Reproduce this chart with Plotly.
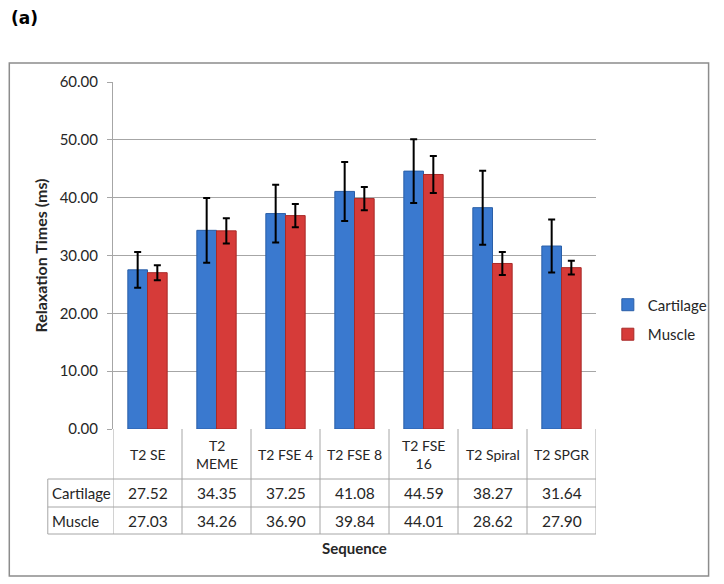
import plotly.graph_objects as go

categories = ["T2 SE", "T2 MEME", "T2 FSE 4", "T2 FSE 8", "T2 FSE 16", "T2 Spiral", "T2 SPGR"]
cat_labels = ["T2 SE", "T2<br>MEME", "T2 FSE 4", "T2 FSE 8", "T2 FSE<br>16", "T2 Spiral", "T2 SPGR"]
cartilage = [27.52, 34.35, 37.25, 41.08, 44.59, 38.27, 31.64]
muscle = [27.03, 34.26, 36.90, 39.84, 44.01, 28.62, 27.90]
cartilage_err = [3.1, 5.6, 5.0, 5.1, 5.5, 6.4, 4.6]
muscle_err = [1.3, 2.2, 2.0, 2.0, 3.2, 2.0, 1.2]
y_ticks = [0, 10, 20, 30, 40, 50, 60]

FONT = "Lato"
TXT = "#262626"
GRID = "#a6a6a6"

fig = go.Figure()
fig.add_trace(go.Bar(
    name="Cartilage", x=categories, y=cartilage,
    marker=dict(color="#3a79cf", line=dict(color="#2a5fa8", width=1)),
    error_y=dict(type="data", array=cartilage_err, color="black", thickness=2, width=3.5),
    legendgroup="c",
))
fig.add_trace(go.Bar(
    name="Muscle", x=categories, y=muscle,
    marker=dict(color="#d63b39", line=dict(color="#a82a28", width=1)),
    error_y=dict(type="data", array=muscle_err, color="black", thickness=2, width=3.5),
    legendgroup="m",
))

shapes = []
annotations = []

# table geometry in paper coordinates
y_cat_bot = -0.1441
y_cart_bot = -0.2248
y_mus_bot = -0.3026
x_row_left = -0.135
line = dict(color=GRID, width=1)

for i in range(len(categories) + 1):
    shapes.append(dict(type="line", xref="x", yref="paper", x0=i - 0.5, x1=i - 0.5,
                       y0=0, y1=y_mus_bot, line=line))
shapes.append(dict(type="line", xref="paper", yref="paper", x0=x_row_left, x1=x_row_left,
                   y0=y_cat_bot, y1=y_mus_bot, line=line))
for yy in [y_cat_bot, y_cart_bot, y_mus_bot]:
    shapes.append(dict(type="line", xref="paper", yref="paper", x0=x_row_left, x1=1,
                       y0=yy, y1=yy, line=line))
# outer chart border
shapes.append(dict(type="rect", xref="paper", yref="paper", x0=-0.2147, x1=1.2331,
                   y0=-0.4236, y1=1.0548, line=dict(color="#8c8c8c", width=1.5)))

def ann(x, y, text, size, xref="x", xanchor="center", bold=False, family=FONT, color=TXT):
    return dict(x=x, y=y, xref=xref, yref="paper", text=f"<b>{text}</b>" if bold else text,
                showarrow=False, xanchor=xanchor, yanchor="middle",
                font=dict(size=size, color=color, family=family))

for cat, lab, c, m in zip(categories, cat_labels, cartilage, muscle):
    annotations.append(ann(cat, y_cat_bot / 2, lab, 14))
    annotations.append(ann(cat, (y_cat_bot + y_cart_bot) / 2, f"{c:.2f}", 15.5))
    annotations.append(ann(cat, (y_cart_bot + y_mus_bot) / 2, f"{m:.2f}", 15.5))
annotations.append(ann(x_row_left + 0.004, (y_cat_bot + y_cart_bot) / 2, "Cartilage", 15,
                       xref="paper", xanchor="left"))
annotations.append(ann(x_row_left + 0.004, (y_cart_bot + y_mus_bot) / 2, "Muscle", 15,
                       xref="paper", xanchor="left"))
annotations.append(ann(0.5, -0.343, "Sequence", 15, xref="paper", bold=True))
annotations.append(ann((8 - 113) / 489, (429 - 18) / 347, "(a)", 17, xref="paper",
                       xanchor="left", bold=True, family="DejaVu Sans", color="black"))

# page body has an 8px margin: figure is shifted accordingly
fig.update_layout(
    width=716, height=576,
    margin=dict(l=105, r=122, t=74, b=155),
    paper_bgcolor="white", plot_bgcolor="white",
    barmode="group", bargap=0.43, bargroupgap=0,
    font=dict(family=FONT, color=TXT, size=13),
    showlegend=True,
    legend=dict(x=1.0245, y=0.405, xanchor="left", yanchor="top",
                font=dict(size=15, color=TXT, family=FONT),
                traceorder="grouped", tracegroupgap=7, bgcolor="rgba(0,0,0,0)"),
    xaxis=dict(range=[-0.5, 6.5], showticklabels=False, showgrid=False, zeroline=False,
               showline=False, fixedrange=True, automargin=False),
    yaxis=dict(range=[0, 60], tickvals=y_ticks, tickformat=".2f", showgrid=True,
               gridcolor=GRID, gridwidth=1, zeroline=False, showline=True, linecolor=GRID,
               ticks="outside", ticklen=5, tickcolor=GRID, automargin=False,
               tickfont=dict(size=15, color=TXT, family=FONT), ticklabelstandoff=6,
               title=dict(text="<b>Relaxation Times (ms)</b>", standoff=8,
                          font=dict(size=16, color=TXT, family=FONT))),
    shapes=shapes,
    annotations=annotations,
)

fig.write_html("out.html")
